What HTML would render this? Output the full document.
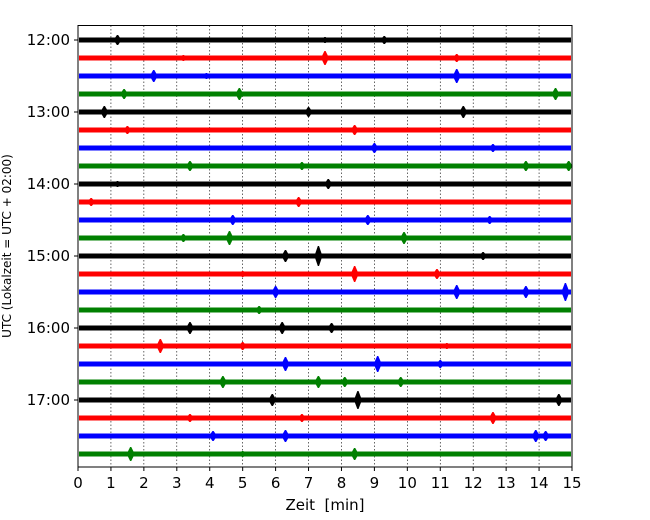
<!DOCTYPE html>
<html><head><meta charset="utf-8"><style>
body{margin:0;background:#fff}
svg{display:block;font-family:"DejaVu Sans","Liberation Sans",sans-serif}
</style></head><body>
<svg id="chart" width="650" height="520" viewBox="0 0 650 520" xmlns="http://www.w3.org/2000/svg">
<g id="grid"></g>
<g id="traces"></g>
<rect x="78" y="25.5" width="494" height="441.5" fill="none" stroke="#000" stroke-width="1"/>
<g id="axes"></g>
<text x="325" y="510" font-size="15" text-anchor="middle">Zeit &#160;[min]</text>
<text transform="translate(11,246) rotate(-90)" font-size="12" text-anchor="middle">UTC (Lokalzeit = UTC + 02:00)</text>
</svg>
<script>
const xTicks=[0,1,2,3,4,5,6,7,8,9,10,11,12,13,14,15];
const hourLabels=["12:00","13:00","14:00","15:00","16:00","17:00"];
const traceCount=24;
const colors=["#000000","#ff0000","#0000ff","#008000"];
const eventTrace=[0,0,0,1,1,1,2,2,2,3,3,3,4,4,4,5,5,6,6,7,7,7,7,8,8,9,9,10,10,10,11,11,11,12,12,12,13,13,13,14,14,14,14,15,15,16,16,16,17,17,17,18,18,18,19,19,19,19,20,20,20,21,21,21,22,22,22,22,23,23,23];
const eventMin=[1.2,9.3,7.5,7.5,11.5,3.2,2.3,11.5,3.9,1.4,4.9,14.5,0.8,7.0,11.7,1.5,8.4,9.0,12.6,3.4,6.8,13.6,14.9,7.6,1.2,6.7,0.4,4.7,8.8,12.5,4.6,9.9,3.2,6.3,7.3,12.3,8.4,10.9,5.0,6.0,11.5,13.6,14.8,5.5,12.0,3.4,6.2,7.7,2.5,5.0,11.2,6.3,9.1,11.0,4.4,7.3,8.1,9.8,5.9,8.5,14.6,3.4,12.6,6.8,4.1,6.3,13.9,14.2,1.6,8.4,5.0];
const eventAmp=[5,4,3,7,4,3,6,7,3,5,6,6,6,5,6,4,5,5,4,5,4,5,5,5,3,5,4,5,5,4,7,6,4,6,10,4,8,5,3,6,7,6,9,4,3,6,6,5,7,4,3,7,8,4,6,6,5,5,6,9,6,4,6,4,5,6,6,5,7,6,3];
const NS="http://www.w3.org/2000/svg";
const x0=78,x1=572,yTop=25.5,yBot=467;
const xs=m=>x0+(x1-x0)*m/15;
const ys=i=>40+18*i;
const grid=document.getElementById('grid'),tr=document.getElementById('traces'),ax=document.getElementById('axes');
function mk(tag,attrs,parent){const e=document.createElementNS(NS,tag);for(const k in attrs)e.setAttribute(k,attrs[k]);parent.appendChild(e);return e;}
xTicks.forEach(t=>{
  if(t>0&&t<15){const g=mk('line',{x1:xs(t),x2:xs(t),y1:yTop,y2:yBot,stroke:'#000','stroke-width':0.6,'stroke-dasharray':'1.5,2'},grid);
  
  }
  const tk=mk('line',{x1:xs(t),x2:xs(t),y1:yBot,y2:yBot+4,stroke:'#000'},ax);
  
  
  const lb=mk('text',{x:xs(t),y:yBot+21,'font-size':15,'text-anchor':'middle'},ax);lb.textContent=t;
  
  
});
hourLabels.forEach((h,k)=>{
  const y=ys(k*4);
  const tk=mk('line',{x1:x0-4,x2:x0,y1:y,y2:y,stroke:'#000'},ax);
  
  
  const lb=mk('text',{x:x0-8,y:y+5,'font-size':15,'text-anchor':'end'},ax);lb.textContent=h;
  
  
});
for(let i=0;i<traceCount;i++){
  const r=mk('rect',{x:x0+1,y:ys(i)-2.5,width:x1-x0-2,height:5,fill:colors[i%4]},tr);
  
  
}
eventTrace.forEach((ti,k)=>{
  const cx=xs(eventMin[k]),cy=ys(ti),a=eventAmp[k];
  const p=mk('polygon',{points:`${cx-4},${cy} ${cx-0.6},${cy-a} ${cx+0.6},${cy-a} ${cx+4},${cy} ${cx+0.6},${cy+a} ${cx-0.6},${cy+a}`,fill:colors[ti%4]},tr);
  
  
});
</script>
</body></html>
